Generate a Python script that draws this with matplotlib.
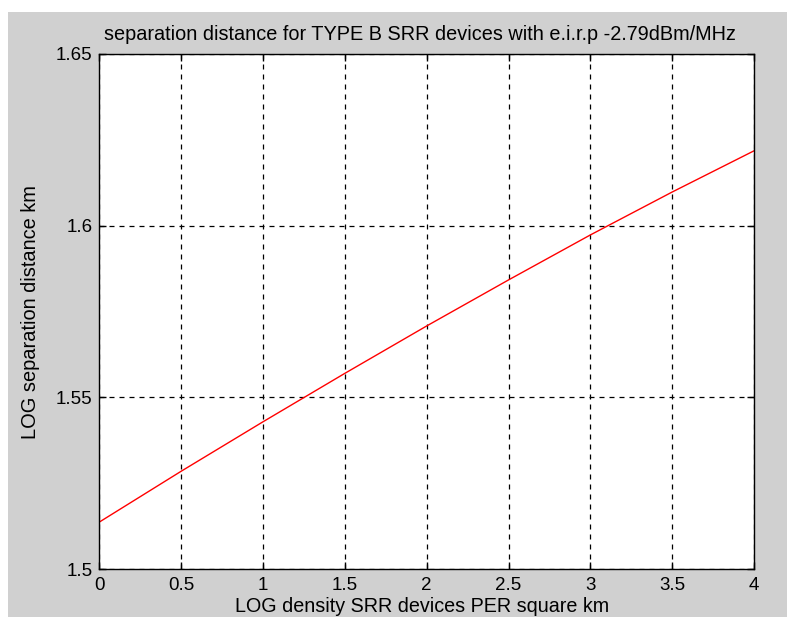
import matplotlib
matplotlib.use('Agg')
import matplotlib.pyplot as plt
from matplotlib.patches import Rectangle

# values
log_density = [0, 0.5, 1, 1.5, 2, 2.5, 3, 3.5, 4]
log_separation = [1.5137, 1.5285, 1.5429, 1.5570, 1.5708, 1.5842, 1.5973, 1.6098, 1.6218]
x_ticks = [0, 0.5, 1, 1.5, 2, 2.5, 3, 3.5, 4]
y_ticks = [1.5, 1.55, 1.6, 1.65]

plt.rcParams['font.family'] = ['Liberation Sans', 'DejaVu Sans']

W, H = 787, 617
fig = plt.figure(figsize=(W / 100, H / 100), dpi=100, facecolor='white')

# matlab style grey window, with a white strip on top and left
fig.patches.append(Rectangle((8 / W, 0), 1, (H - 12) / H, transform=fig.transFigure,
                             facecolor='#d0d0d0', edgecolor='none', zorder=-10))

ax = fig.add_axes([99.5 / W, 48 / H, (754 - 99.5) / W, (569 - 54) / H], zorder=5)
ax.set_facecolor('white')
ax.plot(log_density, log_separation, color='red', lw=1)

ax.set_xlim(0, 4)
ax.set_ylim(1.5, 1.65)
ax.set_xticks(x_ticks)
ax.set_xticklabels(['0', '0.5', '1', '1.5', '2', '2.5', '3', '3.5', '4'])
ax.set_yticks(y_ticks)
ax.set_yticklabels(['1.5', '1.55', '1.6', '1.65'])
ax.tick_params(direction='in', length=5, width=1, top=True, right=True,
               labelsize=13.5, colors='black')
ax.tick_params(axis='x', pad=6)
ax.tick_params(axis='y', pad=5)
for s in ax.spines.values():
	s.set_color('black')
	s.set_linewidth(1)
ax.grid(True, color='black', linestyle=(0, (4, 4)), linewidth=0.9)

fig.text(420 / W, 1 - 34 / H, 'separation distance for TYPE B SRR devices with e.i.r.p -2.79dBm/MHz',
         ha='center', va='center', fontsize=14.3)
fig.text(31 / W, 1 - 312 / H, 'LOG separation distance km', rotation=90,
         ha='center', va='center', fontsize=14.4)
fig.text(422 / W, 1 / H, 'LOG density SRR devices PER square km',
         ha='center', va='bottom', fontsize=14.2)

fig.savefig('out.png', dpi=100, facecolor='white')
